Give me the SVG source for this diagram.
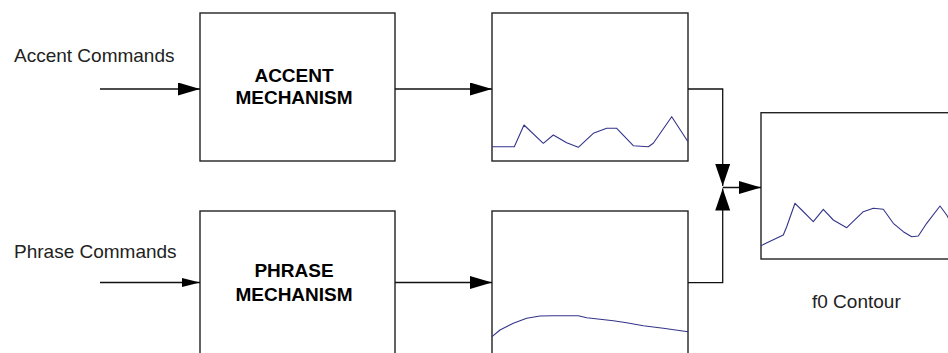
<svg xmlns="http://www.w3.org/2000/svg" width="948" height="353" viewBox="0 0 948 353">
  <style>
    .box { fill: #ffffff; stroke: #222222; stroke-width: 1.4; }
    .wire { fill: none; stroke: #111111; stroke-width: 1.3; }
    .curve { fill: none; stroke: #34348a; stroke-width: 1.1; stroke-linejoin: round; }
    .label { font-family: "Liberation Sans", Arial, sans-serif; font-size: 19px; fill: #222222; }
    .title { font-family: "Liberation Sans", Arial, sans-serif; font-size: 19px; font-weight: bold; fill: #000000; text-anchor: middle; }
  </style>
  <defs>
    <marker id="arrow" markerUnits="userSpaceOnUse" markerWidth="22" markerHeight="14" refX="22" refY="6.5" orient="auto">
      <path d="M0,0 L22,6.5 L0,13 Z" fill="#000000"/>
    </marker>
    <marker id="arrow-small" markerUnits="userSpaceOnUse" markerWidth="18" markerHeight="10" refX="18" refY="4.5" orient="auto">
      <path d="M0,0 L18,4.5 L0,9 Z" fill="#000000"/>
    </marker>
    <marker id="arrow-wide" markerUnits="userSpaceOnUse" markerWidth="22" markerHeight="16" refX="22" refY="7.5" orient="auto">
      <path d="M0,0 L22,7.5 L0,15 Z" fill="#000000"/>
    </marker>
  </defs>

  <!-- input labels -->
  <text class="label" x="14" y="62">Accent Commands</text>
  <text class="label" x="14" y="258">Phrase Commands</text>

  <!-- accent mechanism block -->
  <g id="accent-mechanism">
    <rect class="box" x="200" y="13" width="195" height="148"/>
    <text class="title" x="294" y="81.5">ACCENT</text>
    <text class="title" x="294" y="104">MECHANISM</text>
  </g>

  <!-- phrase mechanism block -->
  <g id="phrase-mechanism">
    <rect class="box" x="200" y="211" width="195" height="160"/>
    <text class="title" x="294" y="277">PHRASE</text>
    <text class="title" x="294" y="300.5">MECHANISM</text>
  </g>

  <!-- accent component plot -->
  <g id="accent-plot">
    <rect class="box" x="492" y="13" width="196" height="148"/>
    <polyline class="curve" points="492,146.7 514.3,146.7 524,125 543.3,143.3 553.3,135 566.7,142.7 578.3,147.3 593.3,133.3 606.7,128.3 616.7,128.3 633.3,145.7 648.3,146.7 653.3,143.3 671.7,116.7 688,141.7"/>
  </g>

  <!-- phrase component plot -->
  <g id="phrase-plot">
    <rect class="box" x="492" y="211" width="196" height="160"/>
    <polyline class="curve" points="492,336.7 500,330 513.3,323.3 526.7,318.3 540,316 553.3,315.7 578.3,315.7 586.7,317.7 606.7,320 613.3,320.7 626.7,322.7 643.3,325.7 663.3,328.3 688,331.7"/>
  </g>

  <!-- resulting f0 contour -->
  <g id="f0-contour">
    <rect class="box" x="761" y="112.7" width="200" height="146.3"/>
    <polyline class="curve" points="761,245.7 783.3,235 786.7,226.7 795,203.3 801.7,210 813.3,221.7 823.3,209.3 833.3,220 846.7,227.7 863.3,211.7 873.3,208.3 883.3,209.3 893.3,223.3 903.3,231.7 911.7,236.7 918.3,236 926.7,223.3 940,206 946.7,215 950,221"/>
    <text class="label" x="812" y="308">f0 Contour</text>
  </g>

  <!-- connectors -->
  <g id="connectors">
    <line class="wire" x1="100" y1="89" x2="200" y2="89" marker-end="url(#arrow)"/>
    <line class="wire" x1="100" y1="282.5" x2="200" y2="282.5" marker-end="url(#arrow-small)"/>
    <line class="wire" x1="395" y1="89" x2="492" y2="89" marker-end="url(#arrow)"/>
    <line class="wire" x1="395" y1="282.5" x2="492" y2="282.5" marker-end="url(#arrow)"/>
    <path class="wire" d="M688,89 H722.7 V186" marker-end="url(#arrow-wide)"/>
    <path class="wire" d="M688,282.7 H722.7 V188.5" marker-end="url(#arrow-wide)"/>
    <line class="wire" x1="722.7" y1="187.5" x2="761" y2="187.5" marker-end="url(#arrow)"/>
  </g>
</svg>
